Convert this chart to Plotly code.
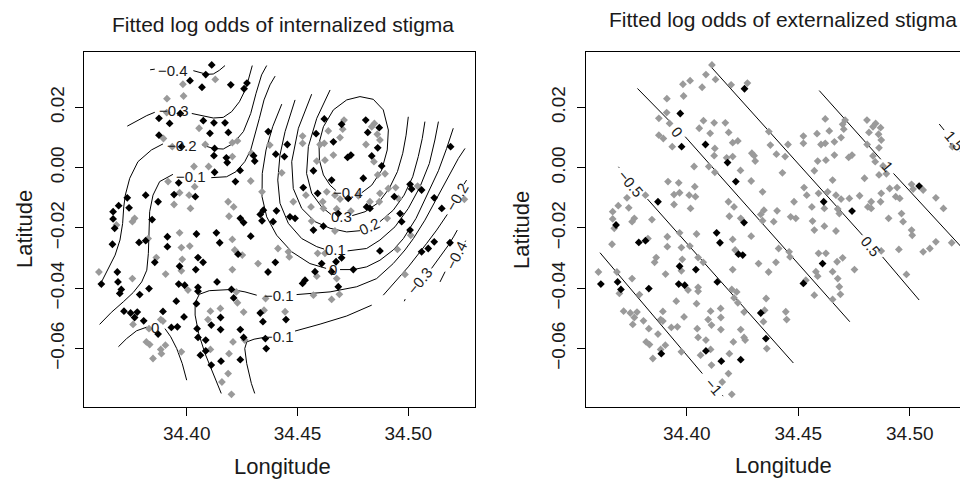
import plotly.graph_objects as go

# ---------------- data: survey locations (shared by both panels) ----------------
LON = [
    34.4113, 34.4086, 34.4129, 34.4015, 34.3983, 34.4069, 34.4199, 34.4272, 34.4259, 34.3911,
    34.3986, 34.3910, 34.3971, 34.3875, 34.3923, 34.4075, 34.4123, 34.4173, 34.4056, 34.4105,
    34.4188, 34.4368, 34.4621, 34.4710, 34.4699, 34.4704, 34.4808, 34.4847, 34.4869, 34.4835,
    34.4817, 34.4639, 34.3875, 34.3895, 34.3935, 34.3977, 34.4229, 34.4206, 34.4084, 34.4126,
    34.4123, 34.4179, 34.4183, 34.4206, 34.4302, 34.4292, 34.4307, 34.4375, 34.4402, 34.4454,
    34.4441, 34.4584, 34.4523, 34.4523, 34.4662, 34.4621, 34.4602, 34.4692, 34.4860, 34.4872,
    34.4862, 34.4809, 34.4741, 34.4726, 34.4662, 34.4624, 34.4587, 34.4572, 34.4835, 34.4845,
    34.4880, 34.4895, 34.4862, 34.4654, 34.4797, 34.4429, 34.4241, 34.4033, 34.4099, 34.4126,
    34.4289, 34.4220, 34.5191, 34.3916, 34.3964, 34.4036, 34.3815, 34.3871, 34.3943, 34.3968,
    34.4011, 34.4039, 34.3943, 34.4017, 34.4187, 34.4212, 34.4340, 34.4346, 34.3732, 34.3693,
    34.4526, 34.4538, 34.4481, 34.4591, 34.4632, 34.4669, 34.4729, 34.4775, 34.4692, 34.4614,
    34.4561, 34.4827, 34.4869, 34.4872, 34.4910, 34.4943, 34.4937, 34.4955, 34.5008, 34.5015,
    34.5042, 34.5060, 34.5117, 34.5253, 34.4812, 34.4827, 34.4405, 34.3668, 34.3668, 34.3683,
    34.3675, 34.3765, 34.3755, 34.3844, 34.4191, 34.4242, 34.4257, 34.4332, 34.4340, 34.4390,
    34.4617, 34.4677, 34.4684, 34.4741, 34.5151, 34.4466, 34.4489, 34.4564, 34.4617, 34.4963,
    34.4970, 34.4905, 34.5008, 34.5011, 34.4572, 34.4669, 34.3665, 34.3785, 34.3815, 34.3826,
    34.3913, 34.3968, 34.4044, 34.4134, 34.4206, 34.4289, 34.3913, 34.3976, 34.4014, 34.4051,
    34.4074, 34.4149, 34.4217, 34.4232, 34.4251, 34.3863, 34.3856, 34.3980, 34.3968, 34.3976,
    34.4041, 34.4206, 34.4322, 34.4367, 34.4412, 34.4400, 34.3604, 34.3687, 34.3690, 34.3615,
    34.3755, 34.3905, 34.4137, 34.3964, 34.3991, 34.4006, 34.4051, 34.4051, 34.4202, 34.4224,
    34.3705, 34.3698, 34.3830, 34.3788, 34.3953, 34.4044, 34.4212, 34.4356, 34.4107, 34.4152,
    34.4096, 34.4229, 34.4257, 34.4153, 34.4111, 34.4153, 34.4242, 34.4332, 34.4349, 34.4344,
    34.3717, 34.3747, 34.3777, 34.3765, 34.3893, 34.3830, 34.3883, 34.3893, 34.3806, 34.3988,
    34.3931, 34.3958, 34.3758, 34.3871, 34.4047, 34.4051, 34.4086, 34.4086, 34.4107, 34.4062,
    34.4111, 34.4155, 34.4191, 34.4242, 34.4209, 34.4262, 34.4257, 34.4355, 34.4359, 34.3818,
    34.3833, 34.3904, 34.3883, 34.3886, 34.3848, 34.3976, 34.4187, 34.4159, 34.4202, 34.4459,
    34.4463, 34.4591, 34.4624, 34.4699, 34.4609, 34.4579, 34.4523, 34.4534, 34.4674, 34.4654,
    34.4587, 34.4752, 34.4677, 34.4684, 34.4689, 34.4654, 34.4572, 34.4444, 34.4448, 34.4872,
    34.4951, 34.5060, 34.5090, 34.5117, 34.5188, 34.4985, 34.3740,
]
LAT = [
    0.0341, 0.0309, 0.0293, 0.0289, 0.0277, 0.0267, 0.0275, 0.0281, 0.0262, 0.0229,
    0.0238, 0.0183, 0.0180, 0.0164, 0.0147, 0.0156, 0.0149, 0.0149, 0.0131, 0.0114,
    0.0117, 0.0120, 0.0162, 0.0158, 0.0144, 0.0128, 0.0158, 0.0147, 0.0133, 0.0136,
    0.0117, 0.0122, 0.0108, 0.0097, 0.0070, 0.0070, 0.0089, 0.0083, 0.0077, 0.0064,
    0.0040, 0.0033, 0.0017, 0.0037, 0.0040, 0.0048, 0.0022, 0.0075, 0.0045, 0.0077,
    0.0037, 0.0113, 0.0105, 0.0081, 0.0086, 0.0081, 0.0077, 0.0100, 0.0111, 0.0092,
    0.0066, 0.0077, 0.0042, 0.0034, 0.0042, 0.0025, 0.0022, -0.0010, 0.0039, 0.0020,
    0.0006, -0.0020, -0.0024, -0.0041, -0.0035, -0.0017, -0.0009, 0.0004, 0.0004, -0.0015,
    -0.0044, -0.0046, 0.0070, -0.0046, -0.0050, -0.0063, -0.0091, -0.0113, -0.0089, -0.0083,
    -0.0091, -0.0096, -0.0122, -0.0135, -0.0113, -0.0130, -0.0080, -0.0141, -0.0100, -0.0126,
    -0.0066, -0.0091, -0.0113, -0.0085, -0.0080, -0.0091, -0.0102, -0.0093, -0.0104, -0.0113,
    -0.0130, -0.0113, -0.0113, -0.0085, -0.0069, -0.0066, -0.0096, -0.0102, -0.0055, -0.0071,
    -0.0061, -0.0074, -0.0100, -0.0105, -0.0130, -0.0135, -0.0143, -0.0146, -0.0170, -0.0190,
    -0.0201, -0.0168, -0.0179, -0.0172, -0.0161, -0.0168, -0.0182, -0.0155, -0.0176, -0.0179,
    -0.0135, -0.0137, -0.0152, -0.0144, -0.0135, -0.0163, -0.0168, -0.0177, -0.0194, -0.0152,
    -0.0179, -0.0168, -0.0207, -0.0224, -0.0207, -0.0210, -0.0254, -0.0248, -0.0242, -0.0235,
    -0.0229, -0.0216, -0.0220, -0.0216, -0.0238, -0.0227, -0.0262, -0.0265, -0.0260, -0.0298,
    -0.0314, -0.0249, -0.0273, -0.0287, -0.0290, -0.0298, -0.0314, -0.0304, -0.0327, -0.0342,
    -0.0338, -0.0338, -0.0318, -0.0346, -0.0268, -0.0314, -0.0346, -0.0346, -0.0379, -0.0386,
    -0.0368, -0.0353, -0.0379, -0.0386, -0.0390, -0.0406, -0.0397, -0.0410, -0.0404, -0.0412,
    -0.0404, -0.0417, -0.0401, -0.0421, -0.0443, -0.0451, -0.0432, -0.0434, -0.0476, -0.0467,
    -0.0504, -0.0448, -0.0479, -0.0497, -0.0522, -0.0537, -0.0537, -0.0482, -0.0473, -0.0511,
    -0.0476, -0.0482, -0.0479, -0.0497, -0.0477, -0.0534, -0.0504, -0.0509, -0.0508, -0.0495,
    -0.0530, -0.0528, -0.0520, -0.0552, -0.0534, -0.0563, -0.0572, -0.0608, -0.0603, -0.0622,
    -0.0655, -0.0642, -0.0617, -0.0637, -0.0578, -0.0572, -0.0563, -0.0567, -0.0600, -0.0578,
    -0.0587, -0.0589, -0.0603, -0.0617, -0.0633, -0.0611, -0.0683, -0.0711, -0.0752, -0.0279,
    -0.0296, -0.0284, -0.0284, -0.0299, -0.0318, -0.0345, -0.0384, -0.0373, -0.0312, -0.0345,
    -0.0360, -0.0338, -0.0368, -0.0395, -0.0420, -0.0437, -0.0423, -0.0478, -0.0504, -0.0276,
    -0.0271, -0.0279, -0.0268, -0.0246, -0.0249, -0.0354, -0.0133,
]
# 1 = black point, 0 = grey point
INT_BLACK = [
    1, 1, 0, 1, 0, 1, 1, 1, 1, 0,
    0, 0, 1, 1, 1, 1, 1, 1, 0, 1,
    1, 1, 1, 0, 1, 0, 1, 0, 1, 0,
    1, 0, 1, 0, 0, 1, 0, 0, 0, 1,
    1, 1, 1, 0, 1, 0, 1, 0, 1, 1,
    1, 1, 0, 0, 1, 0, 0, 0, 0, 0,
    1, 0, 1, 1, 0, 0, 0, 1, 1, 0,
    1, 0, 0, 1, 1, 0, 1, 0, 0, 1,
    0, 1, 1, 0, 1, 0, 1, 1, 1, 0,
    0, 1, 0, 0, 0, 0, 0, 1, 1, 1,
    1, 0, 0, 1, 0, 0, 1, 0, 0, 0,
    0, 0, 0, 0, 0, 0, 1, 0, 1, 1,
    0, 1, 1, 0, 1, 1, 1, 1, 1, 0,
    1, 0, 0, 1, 0, 1, 1, 1, 1, 1,
    0, 0, 1, 0, 1, 1, 1, 0, 1, 1,
    1, 0, 1, 0, 1, 0, 1, 1, 1, 0,
    1, 0, 1, 1, 0, 1, 1, 0, 0, 1,
    1, 1, 0, 1, 0, 0, 1, 0, 1, 0,
    1, 0, 0, 1, 0, 1, 0, 1, 1, 1,
    0, 0, 1, 1, 1, 0, 1, 1, 1, 0,
    1, 1, 1, 1, 1, 1, 1, 0, 0, 0,
    0, 0, 0, 1, 1, 1, 1, 1, 0, 1,
    1, 1, 1, 1, 1, 0, 0, 0, 1, 1,
    1, 1, 0, 1, 1, 1, 1, 1, 0, 1,
    1, 1, 0, 1, 0, 0, 1, 1, 1, 0,
    0, 0, 0, 0, 0, 0, 0, 0, 0, 0,
    0, 0, 0, 1, 1, 1, 1, 1, 1, 1,
    0, 1, 0, 1, 0, 0, 0, 0, 1, 1,
    0, 1, 1, 1, 1, 0, 1,
]
EXT_BLACK = [
    0, 0, 0, 0, 0, 0, 0, 0, 1, 0,
    0, 0, 1, 0, 0, 0, 0, 0, 0, 0,
    0, 0, 0, 0, 0, 0, 0, 0, 0, 0,
    0, 0, 0, 0, 0, 1, 0, 0, 1, 0,
    0, 0, 1, 0, 0, 0, 0, 0, 0, 0,
    0, 0, 0, 0, 0, 0, 0, 0, 0, 0,
    0, 0, 0, 0, 0, 0, 0, 0, 0, 0,
    0, 0, 0, 0, 0, 0, 0, 0, 0, 0,
    0, 1, 0, 0, 0, 0, 0, 1, 0, 0,
    0, 0, 0, 0, 0, 0, 0, 0, 0, 0,
    0, 0, 0, 0, 0, 0, 0, 0, 0, 1,
    0, 0, 0, 0, 0, 0, 0, 0, 0, 0,
    1, 0, 0, 0, 0, 0, 0, 0, 0, 1,
    0, 0, 0, 0, 0, 0, 1, 0, 0, 0,
    0, 0, 0, 1, 0, 0, 0, 0, 0, 0,
    0, 0, 0, 0, 0, 0, 0, 1, 1, 0,
    0, 0, 0, 1, 0, 0, 0, 0, 0, 0,
    0, 1, 0, 1, 1, 0, 0, 0, 1, 0,
    1, 0, 0, 0, 0, 0, 0, 0, 1, 1,
    0, 0, 1, 1, 1, 0, 0, 0, 0, 0,
    1, 0, 1, 0, 0, 0, 0, 0, 0, 0,
    0, 0, 0, 0, 0, 0, 0, 1, 0, 0,
    0, 0, 0, 0, 0, 0, 0, 0, 0, 0,
    0, 0, 0, 0, 0, 0, 0, 1, 0, 0,
    0, 1, 0, 1, 0, 0, 0, 1, 0, 0,
    0, 0, 0, 1, 0, 0, 0, 0, 0, 0,
    0, 0, 0, 0, 1, 0, 1, 0, 0, 0,
    0, 0, 0, 0, 0, 0, 0, 0, 0, 0,
    0, 0, 0, 0, 0, 0, 0,
]
assert len(LON) == len(LAT) == len(INT_BLACK) == len(EXT_BLACK)

# ---------------- contour lines (lon, lat) ----------------
INT_SEGMENTS = [
    [(34.3835, 0.0325), (34.3856, 0.0327)],
    [(34.4030, 0.0322), (34.4060, 0.0316), (34.4090, 0.0310), (34.4120, 0.0311), (34.4147, 0.0323), (34.4173, 0.0339)],
    [(34.3732, 0.0138), (34.3774, 0.0156), (34.3820, 0.0173), (34.3856, 0.0184)],
    [(34.4023, 0.0180), (34.4068, 0.0172), (34.4120, 0.0165), (34.4165, 0.0167), (34.4203, 0.0186), (34.4238, 0.0219),
     (34.4260, 0.0252), (34.4278, 0.0291), (34.4289, 0.0319), (34.4296, 0.0339)],
    [(34.3606, -0.0393), (34.3642, -0.0342), (34.3677, -0.0290), (34.3699, -0.0240), (34.3711, -0.0185), (34.3716, -0.0130),
     (34.3723, -0.0091), (34.3743, -0.0035), (34.3780, 0.0020), (34.3841, 0.0059), (34.3893, 0.0079)],
    [(34.4071, 0.0075), (34.4120, 0.0064), (34.4165, 0.0062), (34.4211, 0.0081), (34.4256, 0.0120), (34.4289, 0.0180),
     (34.4313, 0.0247), (34.4338, 0.0308), (34.4361, 0.0339)],
    [(34.3607, -0.0520), (34.3660, -0.0480), (34.3714, -0.0445), (34.3759, -0.0414), (34.3797, -0.0379), (34.3820, -0.0340),
     (34.3827, -0.0285), (34.3830, -0.0218), (34.3833, -0.0146), (34.3848, -0.0091), (34.3878, -0.0046), (34.3938, -0.0022)],
    [(34.4111, -0.0033), (34.4180, -0.0030), (34.4223, -0.0013), (34.4262, 0.0020), (34.4289, 0.0059), (34.4308, 0.0108),
     (34.4328, 0.0164), (34.4349, 0.0225), (34.4376, 0.0275), (34.4399, 0.0304)],
    [(34.4429, 0.0211), (34.4388, 0.0136), (34.4358, 0.0059), (34.4341, -0.0019), (34.4340, -0.0096), (34.4361, -0.0163),
     (34.4406, -0.0224), (34.4474, -0.0279), (34.4556, -0.0318), (34.4629, -0.0334)],
    [(34.4692, -0.0338), (34.4752, -0.0338), (34.4812, -0.0329), (34.4872, -0.0307), (34.4932, -0.0273), (34.4978, -0.0235),
     (34.5035, -0.0168), (34.5086, -0.0091), (34.5136, -0.0010), (34.5173, 0.0064), (34.5203, 0.0131)],
    [(34.4489, 0.0225), (34.4444, 0.0120), (34.4421, 0.0042), (34.4411, -0.0041), (34.4421, -0.0118), (34.4459, -0.0185),
     (34.4519, -0.0235), (34.4587, -0.0262), (34.4620, -0.0270)],
    [(34.4726, -0.0276), (34.4812, -0.0268), (34.4872, -0.0240), (34.4940, -0.0196), (34.5000, -0.0135), (34.5053, -0.0063),
     (34.5095, 0.0014), (34.5120, 0.0092), (34.5136, 0.0153)],
    [(34.4564, 0.0244), (34.4504, 0.0131), (34.4474, 0.0020), (34.4481, -0.0069), (34.4519, -0.0135), (34.4579, -0.0179),
     (34.4647, -0.0201), (34.4722, -0.0213), (34.4782, -0.0209)],
    [(34.4872, -0.0179), (34.4932, -0.0141), (34.4981, -0.0091), (34.5020, -0.0030), (34.5045, 0.0037), (34.5063, 0.0097),
     (34.5075, 0.0153)],
    [(34.4647, 0.0258), (34.4587, 0.0164), (34.4549, 0.0070), (34.4541, -0.0019), (34.4564, -0.0085), (34.4609, -0.0130),
     (34.4651, -0.0155)],
    [(34.4747, -0.0159), (34.4805, -0.0146), (34.4865, -0.0116), (34.4914, -0.0069), (34.4951, -0.0013), (34.4975, 0.0048),
     (34.4990, 0.0108), (34.5000, 0.0169)],
    [(34.4790, -0.0083), (34.4835, -0.0058), (34.4880, -0.0008), (34.4905, 0.0059), (34.4910, 0.0125), (34.4887, 0.0192),
     (34.4842, 0.0227), (34.4782, 0.0236), (34.4722, 0.0225), (34.4662, 0.0192), (34.4617, 0.0136), (34.4597, 0.0081),
     (34.4599, 0.0025), (34.4617, -0.0024), (34.4647, -0.0058), (34.4674, -0.0076)],
    [(34.4156, -0.0749), (34.4120, -0.0683), (34.4083, -0.0617), (34.4054, -0.0550), (34.4038, -0.0489), (34.4038, -0.0448),
     (34.4057, -0.0420), (34.4102, -0.0408), (34.4202, -0.0404), (34.4263, -0.0412), (34.4316, -0.0423)],
    [(34.4496, -0.0421), (34.4647, -0.0412), (34.4767, -0.0395), (34.4857, -0.0368), (34.4932, -0.0318), (34.4985, -0.0273),
     (34.5023, -0.0235), (34.5075, -0.0174), (34.5128, -0.0102), (34.5181, -0.0030), (34.5226, 0.0031), (34.5256, 0.0064)],
    [(34.4307, -0.0749), (34.4292, -0.0716), (34.4271, -0.0650), (34.4262, -0.0600), (34.4271, -0.0578), (34.4304, -0.0569),
     (34.4349, -0.0563)],
    [(34.4489, -0.0542), (34.4602, -0.0519), (34.4722, -0.0492), (34.4835, -0.0456)],
    [(34.3692, -0.0594), (34.3729, -0.0567), (34.3774, -0.0541), (34.3820, -0.0529)],
    [(34.3902, -0.0534), (34.3928, -0.0561), (34.3955, -0.0600), (34.3980, -0.0650), (34.4000, -0.0705)],
    [(34.4887, -0.0423), (34.5000, -0.0329), (34.5083, -0.0251), (34.5128, -0.0207), (34.5176, -0.0155)],
    [(34.5251, -0.0055), (34.5263, -0.0041)],
    [(34.4982, -0.0443), (34.4986, -0.0436)],
    [(34.5105, -0.0334), (34.5143, -0.0296), (34.5181, -0.0257), (34.5206, -0.0227), (34.5221, -0.0207)],
    [(34.5143, -0.0379), (34.5166, -0.0345)],
    [(34.5256, -0.0246), (34.5259, -0.0242)],
]
INT_LABELS = ["\u22120.4", "\u22120.3", "\u22120.2", "\u22120.1", "\u22120.4", "0.3", "0.2", "0.1", "0",
              "\u22120.1", "\u22120.1", "0", "\u22120.2", "\u22120.3", "\u22120.4"]
INT_LABEL_LON = [34.3938, 34.3941, 34.3980, 34.4021, 34.4729, 34.4699, 34.4824, 34.4672, 34.4662,
                 34.4415, 34.4415, 34.3857, 34.5221, 34.5053, 34.5215]
INT_LABEL_LAT = [0.0324, 0.0189, 0.0074, -0.0030, -0.0083, -0.0163, -0.0196, -0.0273, -0.0337,
                 -0.0425, -0.0559, -0.0530, -0.0096, -0.0375, -0.0290]
INT_LABEL_ANGLE = [0, 0, 0, 0, 0, 0, -25, 0, 0, 0, 0, 0, -60, -50, -63]

EXT_SEGMENTS = [
    [(34.3611, -0.0282), (34.4070, -0.0683)],
    [(34.4160, -0.0755), (34.4163, -0.0758)],
    [(34.3694, 0.0003), (34.3697, 0.0000)],
    [(34.3824, -0.0104), (34.4478, -0.0648)],
    [(34.3779, 0.0263), (34.3921, 0.0156)],
    [(34.3993, 0.0103), (34.4731, -0.0511)],
    [(34.4105, 0.0338), (34.4788, -0.0224)],
    [(34.4878, -0.0296), (34.5042, -0.0439)],
    [(34.4594, 0.0256), (34.4870, 0.0028)],
    [(34.4927, -0.0019), (34.5251, -0.0279)],
    [(34.5132, 0.0145), (34.5154, 0.0125)],
    [(34.5226, 0.0053), (34.5232, 0.0048)],
]
EXT_LABELS = ["\u22121", "\u22120.5", "0", "0.5", "1", "1.5"]
EXT_LABEL_LON = [34.4120, 34.3749, 34.3955, 34.4825, 34.4900, 34.5199]
EXT_LABEL_LAT = [-0.0727, -0.0052, 0.0120, -0.0262, 0.0003, 0.0090]
EXT_LABEL_ANGLE = [50, 50, 50, 50, 50, 50]

X_TICKS = [34.40, 34.45, 34.50]
X_TICKTEXT = ["34.40", "34.45", "34.50"]
Y_TICKS = [-0.06, -0.04, -0.02, 0.00, 0.02]
Y_TICKTEXT = ["\u22120.06", "\u22120.04", "\u22120.02", "0.00", "0.02"]

TITLES = ["Fitted log odds of internalized stigma", "Fitted log odds of externalized stigma"]
X_TITLE = "Longitude"
Y_TITLE = "Latitude"

# ---------------- figure ----------------
FONT = "Liberation Sans, Arial, Helvetica, sans-serif"
INK = "#1a1a1a"
GREY = "#9a9a9a"

# the page body has an 8px margin: the figure is drawn 8px in from the window corner
PAGE_W, PAGE_H, OFF = 968, 481, 8
W, H = PAGE_W - OFF, PAGE_H - OFF


def px(xp):  # window x pixel -> paper fraction
    return (xp - OFF) / W


def py(yp):  # window y pixel (from top) -> paper fraction
    return (PAGE_H - yp) / H


fig = go.Figure()


def add_lines(segments, xa, ya):
    xs, ys = [], []
    for seg in segments:
        for lo, la in seg:
            xs.append(lo)
            ys.append(la)
        xs.append(None)
        ys.append(None)
    fig.add_trace(go.Scatter(x=xs, y=ys, mode="lines", line=dict(color="black", width=1),
                             xaxis=xa, yaxis=ya, hoverinfo="skip", showlegend=False))


def add_points(flags, xa, ya):
    for want, col in ((0, GREY), (1, "black")):
        xs = [lo for lo, f in zip(LON, flags) if f == want]
        ys = [la for la, f in zip(LAT, flags) if f == want]
        fig.add_trace(go.Scatter(x=xs, y=ys, mode="markers",
                                 marker=dict(symbol="diamond", size=6, color=col, line=dict(width=0)),
                                 xaxis=xa, yaxis=ya, hoverinfo="skip", showlegend=False))


add_lines(INT_SEGMENTS, "x", "y")
add_points(INT_BLACK, "x", "y")
add_lines(EXT_SEGMENTS, "x2", "y2")
add_points(EXT_BLACK, "x2", "y2")

annotations = []
for txt, lo, la, ang in zip(INT_LABELS, INT_LABEL_LON, INT_LABEL_LAT, INT_LABEL_ANGLE):
    annotations.append(dict(x=lo, y=la, xref="x", yref="y", text=txt, showarrow=False, textangle=ang,
                            font=dict(family=FONT, size=15, color=INK)))
for txt, lo, la, ang in zip(EXT_LABELS, EXT_LABEL_LON, EXT_LABEL_LAT, EXT_LABEL_ANGLE):
    annotations.append(dict(x=lo, y=la, xref="x2", yref="y2", text=txt, showarrow=False, textangle=ang,
                            font=dict(family=FONT, size=15, color=INK)))

annotations += [
    dict(x=px(282.5), y=py(25), xref="paper", yref="paper", text=TITLES[0], showarrow=False,
         font=dict(family=FONT, size=21, color=INK), xanchor="center", yanchor="middle"),
    dict(x=px(783), y=py(20), xref="paper", yref="paper", text=TITLES[1], showarrow=False,
         font=dict(family=FONT, size=21, color=INK), xanchor="center", yanchor="middle"),
    dict(x=px(282.5), y=py(466), xref="paper", yref="paper", text=X_TITLE, showarrow=False,
         font=dict(family=FONT, size=22, color=INK), xanchor="center", yanchor="middle"),
    dict(x=px(783), y=py(465), xref="paper", yref="paper", text=X_TITLE, showarrow=False,
         font=dict(family=FONT, size=22, color=INK), xanchor="center", yanchor="middle"),
    dict(x=px(25), y=py(229), xref="paper", yref="paper", text=Y_TITLE, showarrow=False, textangle=-90,
         font=dict(family=FONT, size=22, color=INK), xanchor="center", yanchor="middle"),
    dict(x=px(521), y=py(230), xref="paper", yref="paper", text=Y_TITLE, showarrow=False, textangle=-90,
         font=dict(family=FONT, size=22, color=INK), xanchor="center", yanchor="middle"),
]

ydom = [py(406.7), py(52.3)]
common_x = dict(tickvals=X_TICKS, ticktext=X_TICKTEXT, ticks="outside", ticklen=8, tickwidth=1, tickcolor="black",
                showline=True, linecolor="black", linewidth=1, mirror=True, showgrid=False, zeroline=False,
                tickfont=dict(family=FONT, size=19, color=INK), ticklabelstandoff=1)
common_y = dict(tickvals=Y_TICKS, ticktext=Y_TICKTEXT, ticks="outside", ticklen=8, tickwidth=1, tickcolor="black",
                showline=True, linecolor="black", linewidth=1, showgrid=False, zeroline=False, tickangle=-90,
                tickfont=dict(family=FONT, size=19, color=INK), range=[-0.0793, 0.0383], domain=ydom,
                ticklabelstandoff=4)

fig.update_layout(
    width=W, height=H, autosize=False,
    margin=dict(l=0, r=0, t=0, b=0),
    paper_bgcolor="white", plot_bgcolor="white",
    showlegend=False,
    xaxis=dict(common_x, domain=[px(84.3), px(475)], range=[34.3538, 34.5301], anchor="y"),
    yaxis=dict(common_y, anchor="x", mirror=True),
    xaxis2=dict(common_x, domain=[px(585.7), 1.0], range=[34.3547, 34.5261], anchor="y2"),
    yaxis2=dict(common_y, anchor="x2", mirror=False),
    annotations=annotations,
)

fig.write_html("out.html")
